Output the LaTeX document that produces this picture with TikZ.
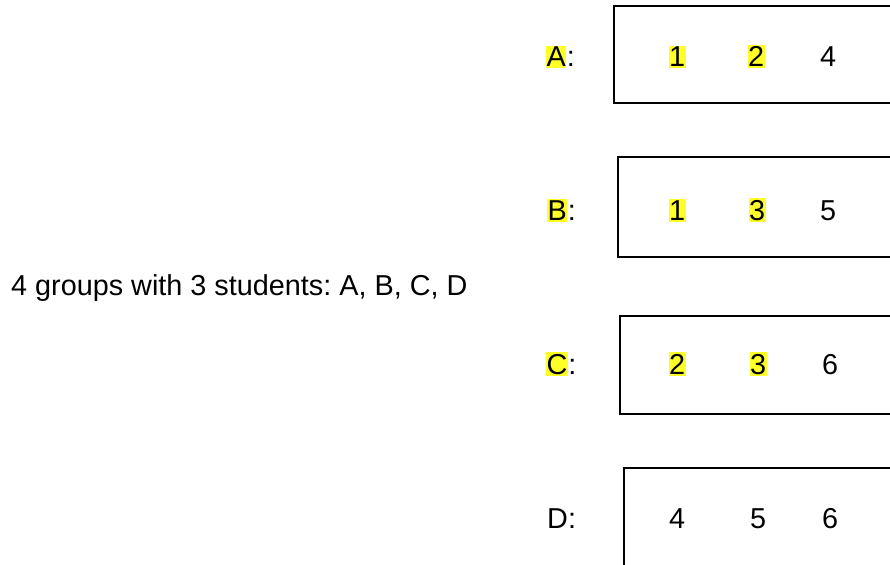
\documentclass[tikz,border=0pt]{standalone}
\usepackage{fontspec}
\setmainfont{Liberation Sans}
\usetikzlibrary{positioning}
\definecolor{mark}{RGB}{255,255,40}
\frenchspacing

\begin{document}
\begin{tikzpicture}[x=1pt,y=-1pt,
  txt/.style={inner sep=0pt,font=\fontsize{28.8}{34}\selectfont},
  hl/.style={txt,fill=mark,inner xsep=0.5pt,inner ysep=1.5pt},
  group/.style={line width=1.8pt}]
\useasboundingbox (0,0) rectangle (890,564);
\clip (0,0) rectangle (890,564);
\node[txt,anchor=base west] (title) at (11,295) {4 groups with 3 students: A, B, C, D};
% group boxes, open to the right
\draw[group] (905,6) -| (614,103) -- (905,103);
\draw[group] (905,157) -| (618,257) -- (905,257);
\draw[group] (905,316) -| (620,414) -- (905,414);
\draw[group] (905,468) -| (624,580);
% A
\node[hl,anchor=base west] (a) at (546,67) {A};
\node[txt,anchor=base west] (ac) at (a.base east) {:};
\node[hl,anchor=base] (a1) at (677,67) {1};
\node[hl,anchor=base] (a2) at (756,67) {2};
\node[txt,anchor=base] (a3) at (828,67) {4};
% B
\node[hl,anchor=base west] (b) at (547,220) {B};
\node[txt,anchor=base west] (bc) at (b.base east) {:};
\node[hl,anchor=base] (b1) at (677,220) {1};
\node[hl,anchor=base] (b2) at (757,220) {3};
\node[txt,anchor=base] (b3) at (828,220) {5};
% C
\node[hl,anchor=base west] (c) at (546,374) {C};
\node[txt,anchor=base west] (cc) at (c.base east) {:};
\node[hl,anchor=base] (c1) at (677,374) {2};
\node[hl,anchor=base] (c2) at (758,374) {3};
\node[txt,anchor=base] (c3) at (830,374) {6};
% D
\node[txt,anchor=base west] (d) at (547,528) {D:};
\node[txt,anchor=base] (d1) at (677,528) {4};
\node[txt,anchor=base] (d2) at (758,528) {5};
\node[txt,anchor=base] (d3) at (830,528) {6};
\end{tikzpicture}
\end{document}
